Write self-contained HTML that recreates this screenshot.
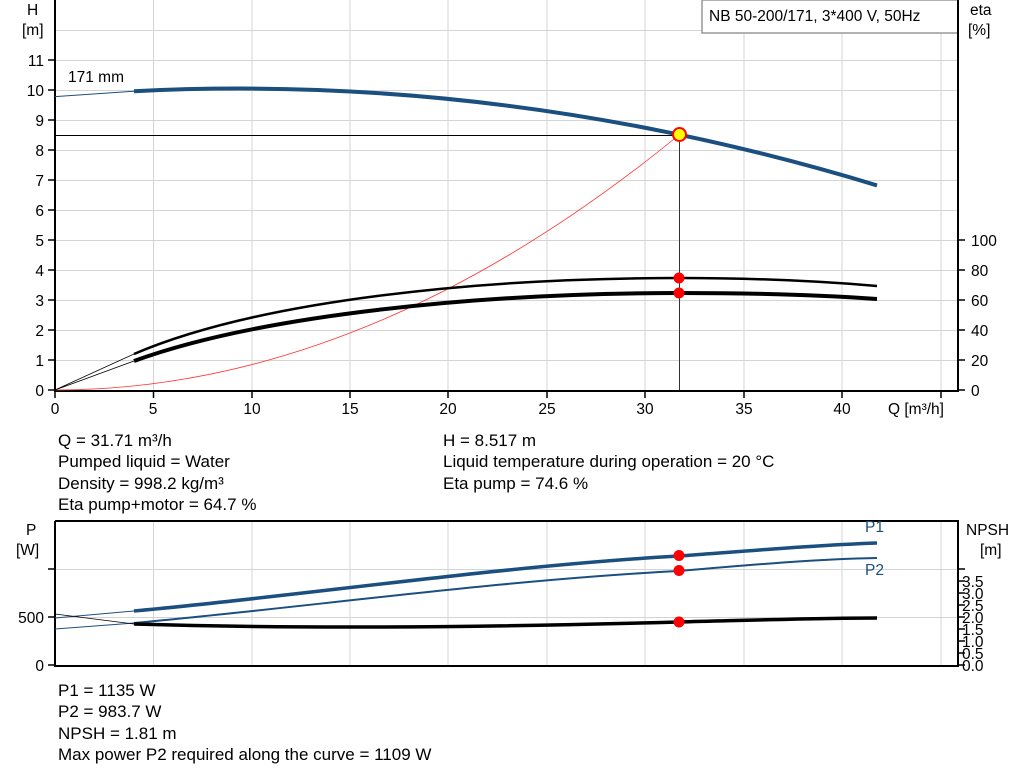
<!DOCTYPE html><html><head><style>body{margin:0;background:#fff}svg{display:block}text{font-family:"Liberation Sans",sans-serif;font-size:15.5px;fill:#000}.i{font-size:17px}</style></head><body>
<svg width="1024" height="781" viewBox="0 0 1024 781" xmlns="http://www.w3.org/2000/svg">
<g stroke="#d4d4d4" stroke-width="1">
<path d="M153.5 0V390M252 0V390M350 0V390M448 0V390M547 0V390M645 0V390M744 0V390M842 0V390M941 0V390"/>
<path d="M55 30.5H958M55 60.5H958M55 90.5H958M55 120.5H958M55 150.5H958M55 180.5H958M55 210.5H958M55 240.5H958M55 270.5H958M55 300.5H958M55 330.5H958M55 360.5H958"/>
<path d="M153.5 521V665M252 521V665M350 521V665M448 521V665M547 521V665M645 521V665M744 521V665M842 521V665M941 521V665"/>
<path d="M55 569.5H958M55 617.5H958"/>
</g>
<rect x="702" y="0" width="256" height="33" fill="#fff" stroke="#999" stroke-width="1.5"/>
<text x="709" y="21">NB 50-200/171, 3*400 V, 50Hz</text>
<g stroke="#000" stroke-width="2" fill="none">
<path d="M55 0V391H958V0"/>
<path d="M55 521V666H958V521H55"/>
</g>
<g stroke="#000" stroke-width="1.5">
<path d="M48 390H55M48 360H55M48 330H55M48 300H55M48 270H55M48 240H55M48 210H55M48 180H55M48 150H55M48 120H55M48 90H55M48 60H55"/>
<path d="M55 391V398M153.5 391V398M252 391V398M350 391V398M448 391V398M547 391V398M645 391V398M744 391V398M842 391V398M941 391V398"/>
<path d="M958 390H965M958 360H965M958 330H965M958 300H965M958 270H965M958 240H965"/>
<path d="M48 665H55M48 617H55M48 569H55"/>
<path d="M958 665H965M958 653H965M958 641H965M958 629H965M958 617H965M958 605H965M958 593H965M958 581H965M958 569H965"/>
</g>
<g text-anchor="end">
<text x="44" y="396">0</text><text x="44" y="366">1</text><text x="44" y="336">2</text><text x="44" y="306">3</text><text x="44" y="276">4</text><text x="44" y="246">5</text><text x="44" y="216">6</text><text x="44" y="186">7</text><text x="44" y="156">8</text><text x="44" y="126">9</text><text x="44" y="96">10</text><text x="44" y="66">11</text>
<text x="44" y="671">0</text><text x="44" y="623">500</text>
</g>
<text x="27" y="15">H</text><text x="22" y="35">[m]</text>
<text x="970" y="15">eta</text><text x="968" y="35">[%]</text>
<g><text x="971" y="396">0</text><text x="971" y="366">20</text><text x="971" y="336">40</text><text x="971" y="306">60</text><text x="971" y="276">80</text><text x="971" y="246">100</text></g>
<g text-anchor="middle"><text x="55" y="414">0</text><text x="153" y="414">5</text><text x="252" y="414">10</text><text x="350" y="414">15</text><text x="448" y="414">20</text><text x="547" y="414">25</text><text x="645" y="414">30</text><text x="744" y="414">35</text><text x="842" y="414">40</text></g>
<text x="888" y="414">Q [m³/h]</text>
<text x="68" y="82">171 mm</text>
<g>
<text x="962" y="671">0.0</text><text x="962" y="659">0.5</text><text x="962" y="647">1.0</text><text x="962" y="635">1.5</text><text x="962" y="623">2.0</text><text x="962" y="611">2.5</text><text x="962" y="599">3.0</text><text x="962" y="587">3.5</text>
</g>
<text x="26" y="535">P</text><text x="16" y="555">[W]</text>
<text x="966" y="535">NPSH</text><text x="980" y="555">[m]</text>
<text x="865" y="532" style="fill:#1a4f80">P1</text><text x="865" y="575" style="fill:#1a4f80">P2</text>
<line x1="55" y1="135.5" x2="679" y2="135.5" stroke="#000" stroke-width="1"/>
<line x1="679.5" y1="135" x2="679.5" y2="390" stroke="#333" stroke-width="1"/>
<path d="M55 390 Q367 390 679 135" fill="none" stroke="#f33" stroke-width="0.8"/>
<path d="M55 96.6 L134 91.2" stroke="#1a4f80" stroke-width="1" fill="none"/>
<path d="M134 91.2 Q505.4 72.5 877 185.4" stroke="#1a4f80" stroke-width="4" fill="none"/>
<path d="M55 390 L134 354 M55 390 L134 361" stroke="#000" stroke-width="0.8" fill="none"/>
<path d="M134 354 C260 300 480 278 679 278 C760 278 820 281 877 286" stroke="#000" stroke-width="2.5" fill="none"/>
<path d="M134 361 C260 315 480 293 679 293 C760 293 820 295 877 299" stroke="#000" stroke-width="4" fill="none"/>
<circle cx="679" cy="278" r="5.5" fill="#f00"/><circle cx="679" cy="293" r="5.5" fill="#f00"/>
<circle cx="679.5" cy="134.5" r="6.5" fill="#ff0" stroke="#f00" stroke-width="2"/>
<path d="M55 618 L134 611 M55 629 L134 623" stroke="#1a4f80" stroke-width="1" fill="none"/>
<path d="M134 611 C300 596 500 566 679 556 C760 550 820 545 877 543" stroke="#1a4f80" stroke-width="3.5" fill="none"/>
<path d="M134 623 C300 608 500 580 679 571 C760 564 820 559 877 558" stroke="#1a4f80" stroke-width="2" fill="none"/>
<path d="M55 614 L134 624" stroke="#000" stroke-width="0.8" fill="none"/>
<path d="M134 624 C300 629 500 627 679 622 C760 620 820 618 877 618" stroke="#000" stroke-width="3.5" fill="none"/>
<circle cx="679" cy="555.5" r="5.5" fill="#f00"/><circle cx="679" cy="570.5" r="5.5" fill="#f00"/><circle cx="679" cy="622" r="5.5" fill="#f00"/>
<text class="i" x="58" y="446">Q = 31.71 m³/h</text>
<text class="i" x="58" y="467">Pumped liquid = Water</text>
<text class="i" x="58" y="489">Density = 998.2 kg/m³</text>
<text class="i" x="58" y="510">Eta pump+motor = 64.7 %</text>
<text class="i" x="443" y="446">H = 8.517 m</text>
<text class="i" x="443" y="467">Liquid temperature during operation = 20 °C</text>
<text class="i" x="443" y="489">Eta pump = 74.6 %</text>
<text class="i" x="58" y="696">P1 = 1135 W</text>
<text class="i" x="58" y="717">P2 = 983.7 W</text>
<text class="i" x="58" y="739">NPSH = 1.81 m</text>
<text class="i" x="58" y="760">Max power P2 required along the curve = 1109 W</text>
</svg></body></html>
